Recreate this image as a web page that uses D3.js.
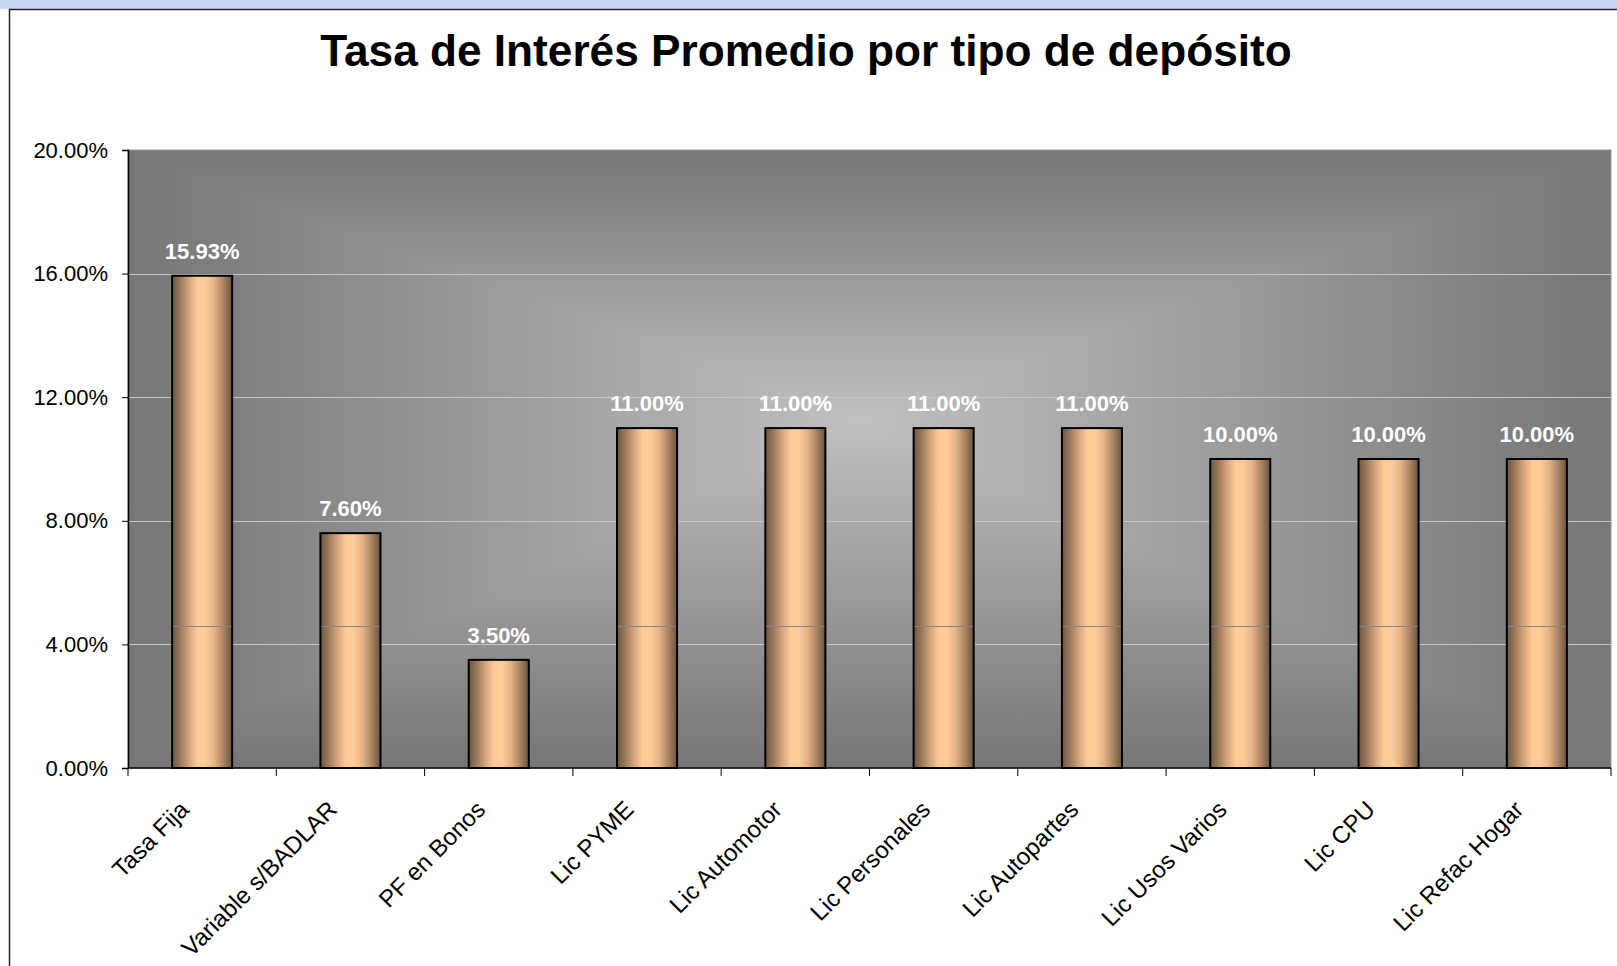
<!DOCTYPE html>
<html>
<head>
<meta charset="utf-8">
<script src="https://cdn.jsdelivr.net/npm/d3@7"></script>
<style>
  body { margin: 0; background: #fff; }
  svg { display: block; font-family: Arial, "Liberation Sans", sans-serif; }
</style>
</head>
<body>
<svg id="chart"></svg>
<script>
const categories = ['Tasa Fija', 'Variable s/BADLAR', 'PF en Bonos', 'Lic PYME', 'Lic Automotor',
  'Lic Personales', 'Lic Autopartes', 'Lic Usos Varios', 'Lic CPU', 'Lic Refac Hogar']
const values = [15.93, 7.60, 3.50, 11.00, 11.00, 11.00, 11.00, 10.00, 10.00, 10.00]
const yTicks = [0, 4, 8, 12, 16, 20]
const title = 'Tasa de Interés Promedio por tipo de depósito'

const width = 1617
const height = 966
const plot = { left: 128, top: 150, right: 1611, bottom: 768 }

const data = categories.map((c, i) => ({ cat: c, value: values[i] }))

const svg = d3.select('#chart').attr('width', width).attr('height', height)
const defs = svg.append('defs')

// top strip + chart frame
svg.append('rect').attr('width', width).attr('height', 9).attr('fill', '#c6d9f1')
svg.append('rect')
    .attr('x', 9.5).attr('y', 9.5)
    .attr('width', width + 20).attr('height', height + 20)
    .attr('fill', '#fff').attr('stroke', '#262626').attr('stroke-width', 1.5)

svg.append('text')
    .text(title)
    .attr('x', 806).attr('y', 66)
    .attr('text-anchor', 'middle')
    .attr('font-size', 44.2).attr('font-weight', 'bold')

const x = d3.scaleBand()
    .domain(categories)
    .range([plot.left, plot.right])
    .paddingInner(0.595)
    .paddingOuter(0.2975)

const y = d3.scaleLinear()
    .domain([0, 20])
    .range([plot.bottom, plot.top])

// plot background: rectangular "from center" gradient
const cx = 860, cy = 420
const edge = '#767676', mid = '#c0c0c0'
function grad(id, x1, y1, x2, y2) {
  const g = defs.append('linearGradient').attr('id', id)
      .attr('gradientUnits', 'userSpaceOnUse')
      .attr('x1', x1).attr('y1', y1).attr('x2', x2).attr('y2', y2)
  g.append('stop').attr('offset', 0).attr('stop-color', edge)
  g.append('stop').attr('offset', 1).attr('stop-color', mid)
}
grad('gTop', 0, plot.top, 0, cy)
grad('gBot', 0, plot.bottom, 0, cy)
grad('gLeft', plot.left, 0, cx, 0)
grad('gRight', plot.right, 0, cx, 0)

const bg = svg.append('g')
// left / right halves first, then top / bottom triangles over them (no seams)
bg.append('rect')
    .attr('x', plot.left).attr('y', plot.top)
    .attr('width', cx - plot.left + 1).attr('height', plot.bottom - plot.top)
    .attr('fill', 'url(#gLeft)')
bg.append('rect')
    .attr('x', cx).attr('y', plot.top)
    .attr('width', plot.right - cx).attr('height', plot.bottom - plot.top)
    .attr('fill', 'url(#gRight)')
const tri = [
  ['gTop', [[plot.left, plot.top], [plot.right, plot.top], [cx, cy]]],
  ['gBot', [[plot.left, plot.bottom], [plot.right, plot.bottom], [cx, cy]]]
]
tri.forEach(([id, pts]) => {
  bg.append('path')
      .attr('d', 'M' + pts.map(p => p.join(',')).join('L') + 'Z')
      .attr('fill', `url(#${id})`)
})
svg.append('rect')
    .attr('x', plot.left).attr('y', plot.top)
    .attr('width', plot.right - plot.left).attr('height', plot.bottom - plot.top)
    .attr('fill', 'none').attr('stroke', '#9c9c9c').attr('stroke-width', 1)

// gridlines
svg.append('g')
    .selectAll('line')
    .data(yTicks.filter(d => d > 0 && d < 20))
    .join('line')
    .attr('x1', plot.left).attr('x2', plot.right)
    .attr('y1', d => Math.round(y(d)) + 0.5).attr('y2', d => Math.round(y(d)) + 0.5)
    .attr('stroke', '#c6c6c6').attr('stroke-width', 1)

// bar gradient
const bgBar = defs.append('linearGradient').attr('id', 'barGrad')
    .attr('x1', 0).attr('x2', 1).attr('y1', 0).attr('y2', 0)
;[[0, '#6e5642'], [0.12, '#957558'], [0.28, '#d3a57c'], [0.42, '#fdca98'], [0.55, '#ffcc99'],
  [0.7, '#e4b387'], [0.85, '#ab8661'], [1, '#6b523e']]
  .forEach(([o, c]) => bgBar.append('stop').attr('offset', o).attr('stop-color', c))

const bars = svg.append('g')
bars.selectAll('rect')
    .data(data)
    .join('rect')
    .attr('x', d => x(d.cat))
    .attr('y', d => y(d.value))
    .attr('width', x.bandwidth())
    .attr('height', d => y(0) - y(d.value))
    .attr('fill', 'url(#barGrad)')
    .attr('stroke', '#000').attr('stroke-width', 2)

// faint seam inside bars (rendering artifact of the original)
const seam = 4.6
bars.selectAll('line')
    .data(data.filter(d => d.value > seam))
    .join('line')
    .attr('x1', d => x(d.cat) + 1)
    .attr('x2', d => x(d.cat) + x.bandwidth() - 1)
    .attr('y1', Math.round(y(seam)) + 0.5).attr('y2', Math.round(y(seam)) + 0.5)
    .attr('stroke', '#7f8790').attr('stroke-width', 1)

// value labels
svg.append('g')
    .selectAll('text')
    .data(data)
    .join('text')
    .text(d => d.value.toFixed(2) + '%')
    .attr('x', d => x(d.cat) + x.bandwidth() / 2)
    .attr('y', d => y(d.value) - 17)
    .attr('text-anchor', 'middle')
    .attr('fill', '#fff')
    .attr('font-size', 22).attr('font-weight', 'bold')

// y axis
const yAxis = svg.append('g')
    .attr('transform', `translate(${plot.left},0)`)
    .call(d3.axisLeft(y).tickValues(yTicks).tickSize(6).tickPadding(14)
        .tickFormat(d => d.toFixed(2) + '%'))
yAxis.select('.domain').attr('stroke', '#000').attr('stroke-width', 1.5)
yAxis.selectAll('.tick line').attr('stroke', '#000')
yAxis.selectAll('text').attr('font-size', 22).attr('fill', '#000')
    .attr('font-family', 'Arial, "Liberation Sans", sans-serif')

// x axis
const xAxis = svg.append('g')
    .attr('transform', `translate(0,${plot.bottom})`)
xAxis.append('line')
    .attr('x1', plot.left).attr('x2', plot.right)
    .attr('stroke', '#000').attr('stroke-width', 1.5)
const bounds = categories.map(c => x(c) - x.step() * x.paddingInner() / 2).concat([plot.right])
xAxis.selectAll('.tk')
    .data(bounds)
    .join('line')
    .attr('x1', d => d).attr('x2', d => d)
    .attr('y1', 0).attr('y2', 8)
    .attr('stroke', '#000')
xAxis.selectAll('text')
    .data(categories)
    .join('text')
    .text(d => d)
    .attr('text-anchor', 'end')
    .attr('font-size', 24)
    .attr('transform', d => `translate(${x(d) + x.bandwidth() / 2 - 12},43) rotate(-45)`)
</script>
</body>
</html>
